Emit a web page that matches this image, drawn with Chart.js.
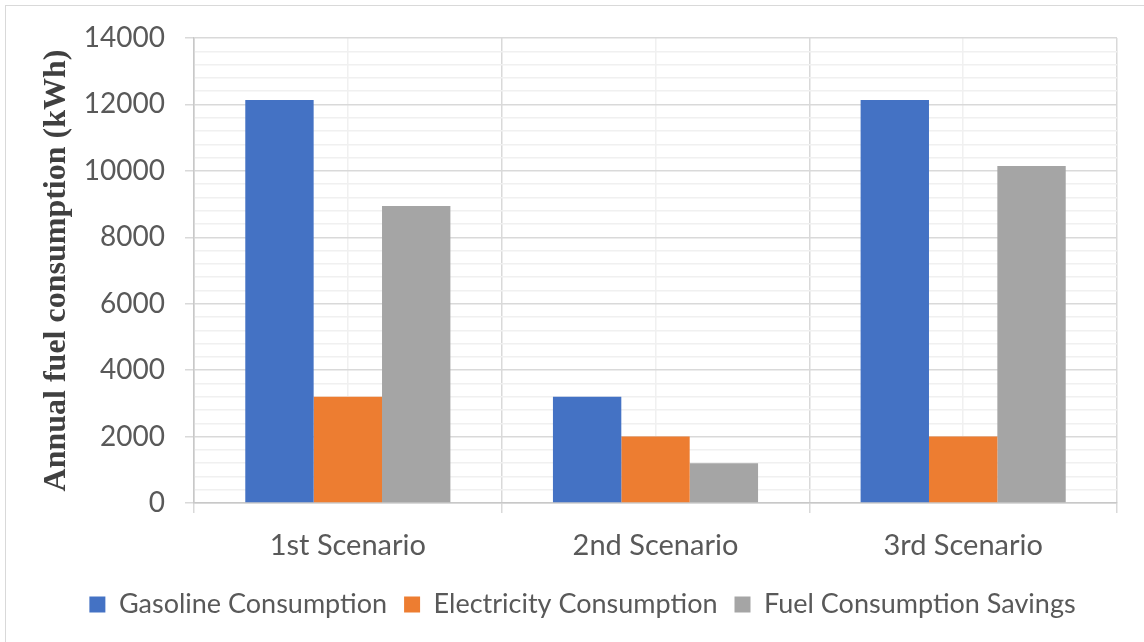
<!DOCTYPE html>
<html>
<head>
<meta charset="utf-8">
<script src="https://cdn.jsdelivr.net/npm/chart.js@4"></script>
<style>
  html, body { margin: 0; padding: 0; background: #ffffff; }
  #wrap { position: relative; width: 1144px; height: 642px; overflow: hidden; }
  #frame { position: absolute; left: 5px; top: 5px; width: 1200px; height: 700px;
           border-left: 1.5px solid #d9d9d9; border-top: 1.5px solid #d9d9d9; }
  canvas { position: absolute; left: 0; top: 0; }
</style>
</head>
<body>
<div id="wrap">
  <div id="frame"></div>
  <canvas id="c" width="1144" height="642"></canvas>
</div>
<script>
// Scenarios and annual energy figures (kWh)
const scenarios = ['1st Scenario', '2nd Scenario', '3rd Scenario'];
const gasolineConsumption = [12130, 3200, 12130];
const electricityConsumption = [3200, 2000, 2000];
const fuelSavings = [8940, 1200, 10150];
const seriesNames = ['Gasoline Consumption', 'Electricity Consumption', 'Fuel Consumption Savings'];
const seriesColors = ['#4472C4', '#ED7D31', '#A5A5A5'];

const yMax = 14000;
const yMajorStep = 2000;
const yMinorStep = 400;

const textColor = '#595959';
const majorGrid = '#d9d9d9';
const minorGrid = '#f0f0f0';
const sansFamily = 'Lato, "Open Sans", sans-serif';

const seriesValues = [gasolineConsumption, electricityConsumption, fuelSavings];

// Center the legend row under the whole figure rather than the padded layout box
const legendShift = {
  id: 'legendShift',
  afterLayout(chart) {
    const lg = chart.legend;
    if (lg) { lg.left += 24; lg.right += 24; }
  }
};

new Chart(document.getElementById('c'), {
  type: 'bar',
  data: {
    labels: scenarios,
    datasets: seriesValues.map((vals, i) => ({
      label: seriesNames[i],
      data: vals,
      backgroundColor: seriesColors[i],
      borderWidth: 0,
      xAxisID: 'x',
      yAxisID: 'y',
      categoryPercentage: 2 / 3,
      barPercentage: 1.0
    }))
  },
  plugins: [legendShift],
  options: {
    responsive: false,
    animation: false,
    layout: { padding: { top: 38, right: 27, bottom: 14, left: 0 } },
    plugins: {
      tooltip: { enabled: false },
      legend: {
        position: 'bottom',
        labels: {
          color: textColor,
          font: { family: sansFamily, size: 27 },
          boxWidth: 16,
          boxHeight: 16,
          padding: 17
        }
      }
    },
    scales: {
      x: {
        type: 'category',
        position: 'bottom',
        offset: true,
        grid: {
          offset: true,
          color: majorGrid,
          lineWidth: 1.5,
          tickLength: 10,
          tickColor: majorGrid
        },
        border: { display: true, color: '#c8c8c8', width: 1.5 },
        ticks: { color: textColor, font: { family: sansFamily, size: 29 }, padding: 15 },
        afterFit: (scale) => { scale.height = 71; }
      },
      xc: {
        type: 'category',
        position: 'bottom',
        offset: true,
        grid: { offset: false, color: minorGrid, lineWidth: 1.5, drawTicks: false },
        border: { display: false },
        ticks: { display: false },
        afterFit: (scale) => { scale.height = 0; }
      },
      y: {
        min: 0,
        max: yMax,
        position: 'left',
        border: { display: true, color: '#c8c8c8', width: 1.5 },
        grid: {
          color: (ctx) => (ctx.tick && ctx.tick.value % yMajorStep === 0) ? majorGrid : minorGrid,
          lineWidth: 1.5,
          tickLength: 9,
          tickColor: (ctx) => (ctx.tick && ctx.tick.value % yMajorStep === 0) ? majorGrid : 'rgba(0,0,0,0)'
        },
        ticks: {
          stepSize: yMinorStep,
          autoSkip: false,
          color: textColor,
          font: { family: sansFamily, size: 28 },
          padding: 20,
          callback: (v) => (v % yMajorStep === 0 ? String(v) : '')
        },
        title: {
          display: true,
          text: 'Annual fuel consumption (kWh)',
          color: '#404040',
          font: { family: '"Liberation Serif", "Times New Roman", serif', size: 32, weight: 'bold' },
          padding: { top: 38, bottom: 0 }
        },
        afterFit: (scale) => { scale.width = 194; }
      }
    }
  }
});
</script>
</body>
</html>
